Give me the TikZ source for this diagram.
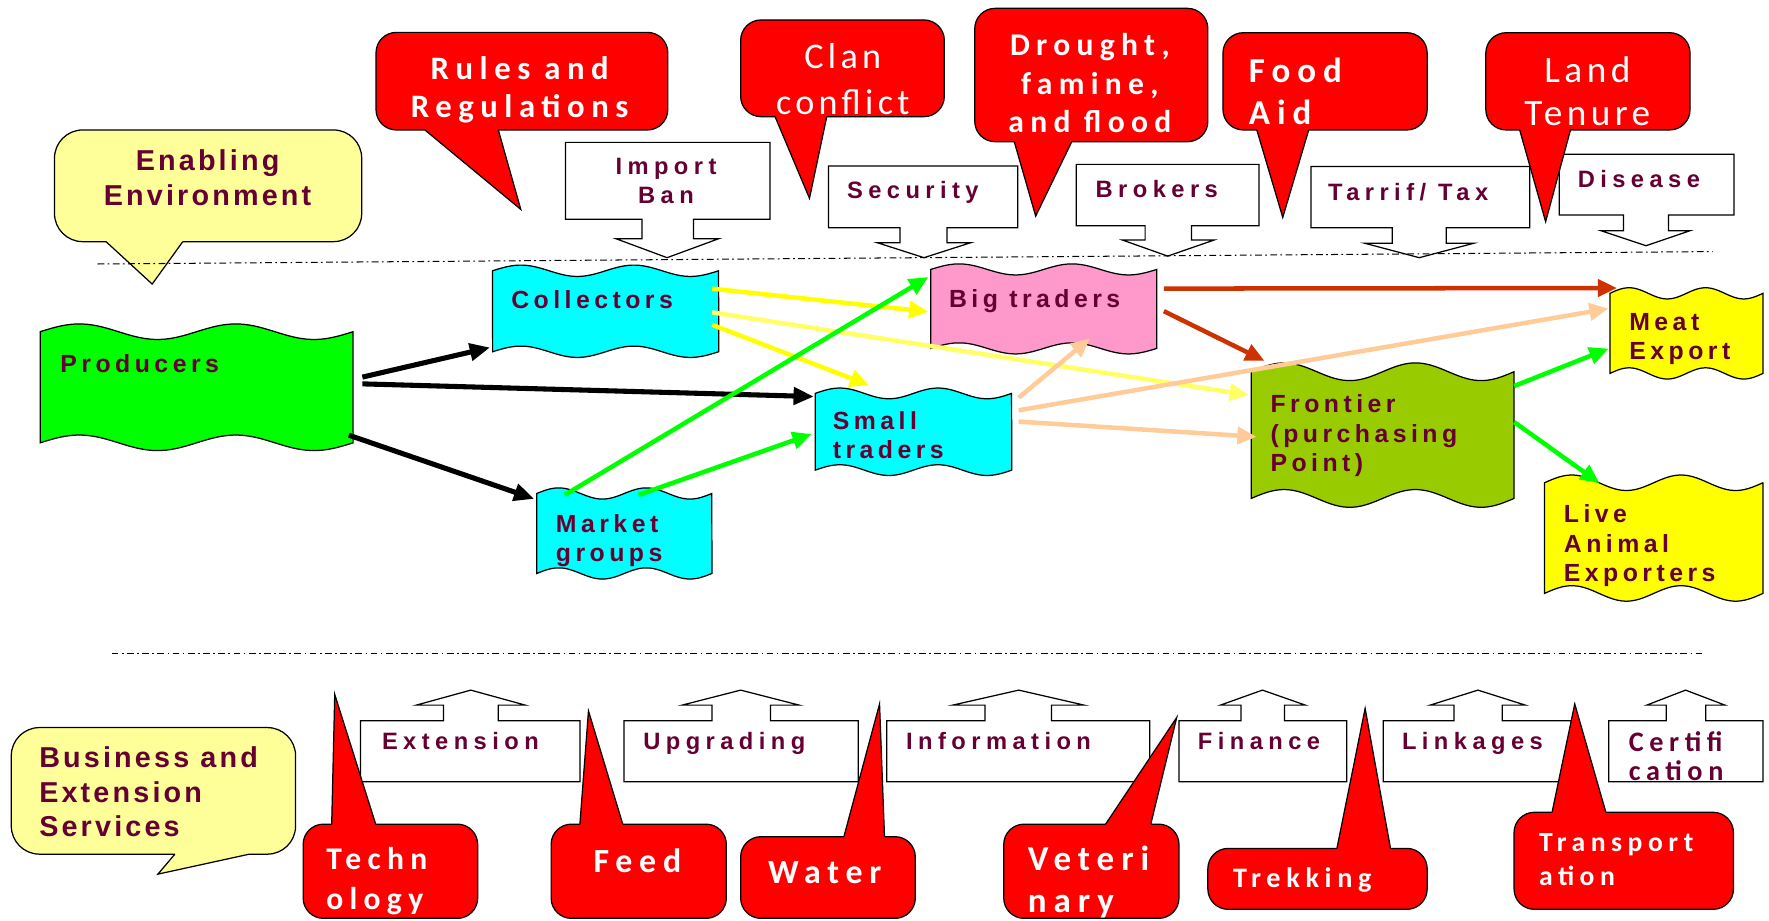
\documentclass[tikz,border=0pt]{standalone}
\usepackage{fontspec}
\setmainfont{Liberation Sans}
\newfontfamily\flowfont[LetterSpace=18]{Liberation Sans}
\newfontfamily\boxfont[LetterSpace=23]{Liberation Sans}
\newfontfamily\notefont[LetterSpace=11]{Liberation Sans}
\newfontfamily\callfont[LetterSpace=20]{Carlito}
\newfontfamily\callthinfont[LetterSpace=12]{Carlito}
\usetikzlibrary{arrows.meta}
\definecolor{txtmaroon}{HTML}{660033}
\definecolor{notefill}{HTML}{FFFF99}
\definecolor{calloutred}{HTML}{FF0000}
\definecolor{wavegreen}{HTML}{00FF00}
\definecolor{wavecyan}{HTML}{00FFFF}
\definecolor{wavepink}{HTML}{FF99CC}
\definecolor{waveolive}{HTML}{99CC00}
\definecolor{waveyellow}{HTML}{FFFF00}
\definecolor{rustarrow}{HTML}{CC3300}
\definecolor{peacharrow}{HTML}{FFCC99}
\definecolor{paleyellow}{HTML}{FFFF66}
\tikzset{
  outline/.style={draw=black, line width=1.1pt},
  flowarea/.style={inner sep=0pt, draw=none},
  flowtext/.style={font=\flowfont\bfseries\fontsize{22}{26}\selectfont, text=txtmaroon, align=left, inner sep=0pt, anchor=north west},
  boxtext/.style={font=\boxfont\bfseries\fontsize{21}{25}\selectfont, text=txtmaroon, align=left, inner sep=0pt, anchor=north west},
  notetext/.style={font=\notefont\bfseries\fontsize{25.5}{30.5}\selectfont, text=txtmaroon, inner sep=0pt, anchor=north west},
  calltext/.style 2 args={font=\callfont\bfseries\fontsize{#1}{#2}\selectfont, text=white, inner sep=0pt, anchor=north west, align=left},
  thintext/.style 2 args={font=\callthinfont\fontsize{#1}{#2}\selectfont, text=white, inner sep=0pt, anchor=north, align=center},
  blackarrow/.style={line width=4.5pt, -{Triangle[length=18pt,width=15pt]}},
  colorarrow/.style={line width=4pt, -{Triangle[length=17pt,width=15pt]}},
  dashdotline/.style={line width=0.9pt, dash pattern=on 6pt off 3pt on 1.5pt off 3pt}
}
\newcommand\flowbox[8]{%
  \pgfmathsetmacro\wamp{0.07*(#5-#3)}
  \filldraw[outline, fill=#6] plot[domain=0:1, samples=61] ({#2+(#4-#2)*\x}, {#3-\wamp*sin(720*\x)})
    -- plot[domain=0:1, samples=61] ({#4-(#4-#2)*\x}, {#5+\wamp*sin(720*\x)}) -- cycle;
  \node[flowarea, minimum width={(#4-#2)*1pt}, minimum height={(#5-#3)*1pt}] (#1) at ({(#2+#4)/2}, {(#3+#5)/2}) {};
  \node[flowtext] (#1-t) at (#7) {#8};
}
\begin{document}
\begin{tikzpicture}[x=1pt, y=-1pt]
  \useasboundingbox (0,0) rectangle (1568,816);
  \foreach \xa/\ya/\xb/\yb/\sa/\sb/\wa/\wb/\yw/\px/\py in {
      501.3/126.2/682.4/194.4/569/614.7/546/637/211.6/591.3/228.4,
      734.3/147.2/902/201.8/797.7/839.4/777.5/860.5/215.1/819/228.4,
      954/145.7/1116/200/1015/1056/995/1076/212.8/1035/227,
      1162/147.5/1356/201.8/1234/1282/1210/1306/215.7/1258/228.4,
      1382/136.8/1537/190.6/1439/1479/1419/1498/204.5/1459/217.8}
    \filldraw[outline, fill=white] (\xa,\ya) -- (\xb,\ya) -- (\xb,\yb) -- (\sb,\yb) -- (\sb,\yw) -- (\wb,\yw)
      -- (\px,\py) -- (\wa,\yw) -- (\sa,\yw) -- (\sa,\yb) -- (\xa,\yb) -- cycle;
  \foreach \xa/\ya/\xb/\yb/\sa/\sb/\wa/\wb/\yw/\px/\py in {
      319.6/638.9/514/693/393/441.7/369/465.6/625/417.3/611.7,
      553/638.9/760.8/693/631/683/604.6/708.4/625/656.5/611.7,
      786/638.9/1019/693/873/932/844.4/961/625/903/611.7,
      1045/638.9/1193.7/693/1100/1138.5/1081.7/1157/625/1119/611.7,
      1226/638.9/1393/693/1288.7/1331.5/1267.6/1352/625/1310/611.7,
      1426/638.9/1562.6/693/1477/1512/1459.6/1529/625/1494/611.7}
    \filldraw[outline, fill=white] (\xa,\yb) -- (\xa,\ya) -- (\sa,\ya) -- (\sa,\yw) -- (\wa,\yw) -- (\px,\py)
      -- (\wb,\yw) -- (\sb,\yw) -- (\sb,\ya) -- (\xb,\ya) -- (\xb,\yb) -- cycle;
  \foreach \xa/\ya/\xb/\yb/\ta/\tb/\ty/\ti/\px/\py/\c/\r in {
      48.3/115.2/320.6/214.2/94/162/214.2/209/134.9/251.8/notefill/25pt,
      333.3/28.7/591.9/115.2/376.6/441.7/115.2/110/461.6/185.6/calloutred/18pt,
      656.5/17.7/837/103.4/687/732.8/103.4/98/717.5/175.8/calloutred/18pt,
      864/7.4/1070.6/125.6/899/950/125.6/120/918/191.5/calloutred/18pt,
      1084/29/1265/115.2/1114/1160/115.2/110/1137/192.7/calloutred/18pt,
      1317/29/1498/115.2/1347/1392/115.2/110/1370/196.5/calloutred/18pt,
      10/644.9/262/757.1/155/221/757.1/752/140/774.8/notefill/25pt,
      268.7/730.5/423.4/814/294/333/730.5/736/296.7/615.5/calloutred/18pt,
      488.5/730.5/643.8/814/514/552/730.5/736/521.6/630.1/calloutred/18pt,
      656.5/741.6/811.3/814/748/784/741.6/747/779.6/624/calloutred/18pt,
      889.7/730.5/1045/814/980/1020/730.5/736/1043/636/calloutred/18pt,
      1070.6/752/1265/806/1185/1232.5/752/757/1210/628/calloutred/18pt,
      1342/720/1536.5/806/1375.7/1423.4/720/725/1395.8/624/calloutred/18pt}
  {
    \filldraw[outline, fill=\c, rounded corners=\r] (\xa,\ya) rectangle (\xb,\yb);
    \fill[\c] (\ta,\ti) -- (\ta,\ty) -- (\px,\py) -- (\tb,\ty) -- (\tb,\ti) -- cycle;
    \draw[outline] (\ta,\ty) -- (\px,\py) -- (\tb,\ty);
  }
  \draw[dashdotline] (86.5,234) -- (1518,223);
  \draw[dashdotline] (99,579) -- (1511,579);

  \node[notetext, anchor=north, align=center] (enabling) at (184,132.7) {Enabling\\Environment};
  \node[notetext, align=left] (business) at (34.6,661.9) {Business and\\Extension\\Services};
  \node[boxtext, anchor=north, align=center] (import) at (590.3,140.3) {Import\\Ban};
  \node[boxtext] (security) at (750.6,160.9) {Security};
  \node[boxtext] (brokers) at (971,159.5) {Brokers};
  \node[boxtext] (tarrif) at (1177,162.5) {Tarrif/ Tax};
  \node[boxtext] (disease) at (1398.3,151.2) {Disease};
  \foreach \xt/\t in {338.4/Extension, 570/Upgrading, 803/Information, 1061.6/Finance, 1242.5/Linkages}
    \node[boxtext] (\t) at (\xt,648.5) {\t};
  \node[calltext={25}{26}, text=txtmaroon] (certif) at (1443.5,648.1) {Certifi\\cation};
  \node[calltext={29}{34}, anchor=north, align=center] (rules) at (460.6,49.9) {Rules and\\Regulations};
  \node[thintext={32}{40}] (clan) at (747,38.7) {Clan\\conflict};
  \node[calltext={28}{34}, anchor=north, align=center] (drought) at (966,29.6) {Drought,\\famine,\\and flood};
  \node[calltext={31}{38}] (food) at (1106.8,50.8) {Food\\Aid};
  \node[thintext={33}{38}] (land) at (1407,50.2) {Land\\Tenure};
  \node[calltext={28}{35}] (techn) at (289,751.2) {Techn\\ology};
  \node[calltext={30}{36}, anchor=north] (feed) at (565,752.4) {Feed};
  \node[calltext={30}{36}, anchor=north] (water) at (731,763.2) {Water};
  \node[calltext={31}{37}] (veter) at (910.8,750) {Veteri\\nary};
  \node[calltext={25}{30}] (trek) at (1092.7,769.1) {Trekking};
  \node[calltext={24.5}{30.5}] (transp) at (1364,738.5) {Transport\\ation};

  \flowbox{prod}{35.6}{294}{313}{392.5}{wavegreen}{53.4,314.2}{Producers}
  \flowbox{coll}{436.6}{240}{637}{311.8}{wavecyan}{453,257.5}{Collectors}
  \flowbox{mkt}{475.8}{437.4}{631}{508.3}{wavecyan}{492.6,455.5}{Market\\groups}
  \flowbox{small}{722.6}{348.7}{896.7}{416.7}{wavecyan}{738,364.5}{Small\\traders}
  \flowbox{big}{825}{238.8}{1025.4}{308.8}{wavepink}{841,256.6}{Big traders}
  \flowbox{front}{1109}{329.5}{1342}{441.8}{waveolive}{1126,349.7}{Frontier\\(purchasing\\Point)}
  \flowbox{meat}{1427}{260}{1562.6}{331}{waveyellow}{1444,277.3}{Meat\\Export}
  \flowbox{live}{1369}{427.9}{1562.6}{526}{waveyellow}{1386,447.2}{Live\\Animal\\Exporters}

  \draw[blackarrow] ([shift={(8,-9)}]prod.east) -- ([shift={(-2,-4)}]coll.south west);
  \draw[blackarrow] ([shift={(8,-3)}]prod.east) -- ([shift={(-1,3)}]small.north west);
  \draw[blackarrow] ([shift={(-4,-7)}]prod.south east) -- ([shift={(-2,5)}]mkt.north west);
  \draw[colorarrow, waveyellow] ([shift={(-6,-20)}]coll.east) -- ([shift={(-2,2.5)}]big.west);
  \draw[colorarrow, paleyellow] ([shift={(-6,1)}]coll.east) -- ([shift={(-2,-35.5)}]front.west);
  \draw[colorarrow, waveyellow] ([shift={(-6,12)}]coll.east) -- ([shift={(48,-7)}]small.north west);
  \draw[colorarrow, wavegreen] ([shift={(25,1.5)}]mkt.north west) -- ([shift={(-2,7)}]big.north west);
  \draw[colorarrow, wavegreen] ([shift={(12.6,1.5)}]mkt.north) -- ([shift={(-3,2)}]small.west);
  \draw[colorarrow, rustarrow] ([shift={(6,-18)}]big.east) -- ([shift={(6.5,-4.5)}]meat.north west);
  \draw[colorarrow, rustarrow] ([shift={(6,2)}]big.east) -- ([shift={(12,-9.5)}]front.north west);
  \draw[colorarrow, peacharrow] ([shift={(6,4)}]small.north east) -- ([shift={(41,-9)}]big.south);
  \draw[colorarrow, peacharrow] ([shift={(6,-19)}]small.east) -- ([shift={(-1,-22)}]meat.west);
  \draw[colorarrow, peacharrow] ([shift={(6,-9)}]small.east) -- ([shift={(5,1.5)}]front.west);
  \draw[colorarrow, wavegreen] ([shift={(0,-43.5)}]front.east) -- ([shift={(-1,13.5)}]meat.west);
  \draw[colorarrow, wavegreen] ([shift={(0,-11.5)}]front.east) -- ([shift={(49,0.5)}]live.north west);
\end{tikzpicture}
\end{document}
